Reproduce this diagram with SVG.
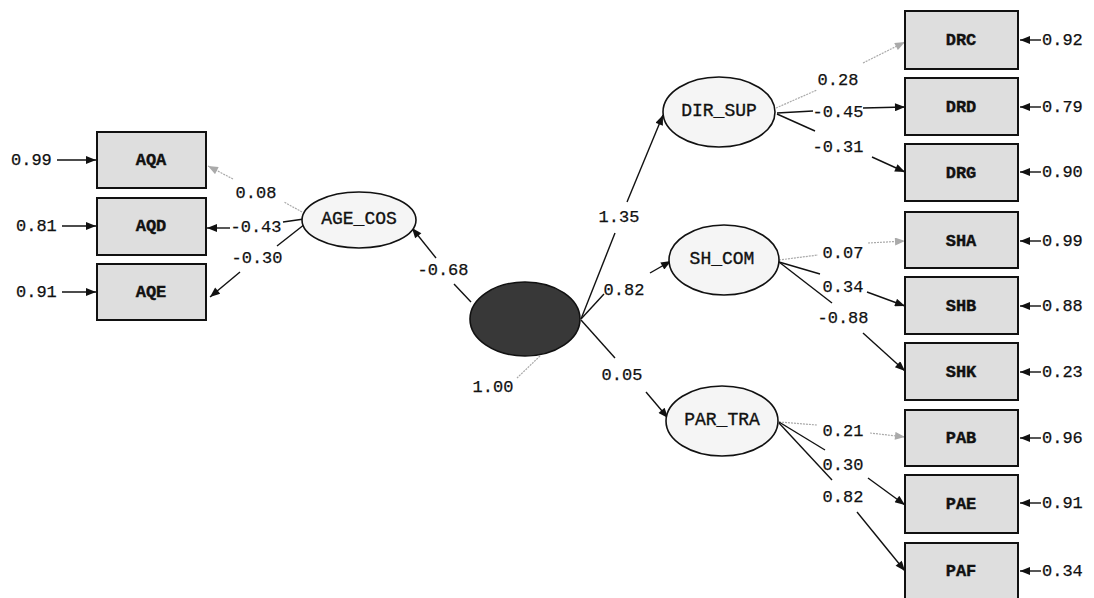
<svg xmlns="http://www.w3.org/2000/svg" width="1094" height="598" viewBox="0 0 1094 598">
<defs>
<marker id="ah" viewBox="0 0 10 8" refX="10" refY="4" markerWidth="12" markerHeight="8" orient="auto" markerUnits="userSpaceOnUse"><path d="M0,0 L10,4 L0,8 z" fill="#111"/></marker>
<marker id="ahg" viewBox="0 0 10 8" refX="10" refY="4" markerWidth="12" markerHeight="8" orient="auto" markerUnits="userSpaceOnUse"><path d="M0,0 L10,4 L0,8 z" fill="#aaa"/></marker>
<style>
.box{fill:#dedede;stroke:#111;stroke-width:2}
.ell{fill:#f5f5f5;stroke:#111;stroke-width:1.6}
.bl{font-family:"Liberation Mono",monospace;font-weight:bold;font-size:17px;fill:#111;stroke:#111;stroke-width:0.4;text-anchor:middle;dominant-baseline:central}
.el{font-family:"Liberation Mono",monospace;font-size:18px;fill:#111;stroke:#111;stroke-width:0.35;text-anchor:middle;dominant-baseline:central}
.num{font-family:"Liberation Mono",monospace;font-size:17px;fill:#111;stroke:#111;stroke-width:0.25;dominant-baseline:central}
.c{text-anchor:middle}
.ln{stroke:#111;stroke-width:1.4;fill:none}
.gl{stroke:#aaa;stroke-width:1.2;stroke-dasharray:2 1;fill:none}
</style>
</defs>
<rect width="1094" height="598" fill="#fff"/>

<g id="connectors">
<line class="ln" x1="471" y1="302" x2="454" y2="284"/>
<line class="ln" x1="436" y1="258" x2="412" y2="228" marker-end="url(#ah)"/>
<text class="num c" x="443" y="270">-0.68</text>
<line class="gl" x1="540" y1="356" x2="517" y2="378"/>
<text class="num c" x="493" y="387">1.00</text>
<line class="ln" x1="581" y1="319" x2="615" y2="233"/>
<line class="ln" x1="627" y1="202" x2="663" y2="115" marker-end="url(#ah)"/>
<text class="num c" x="619" y="217">1.35</text>
<line class="ln" x1="581" y1="319" x2="604" y2="294"/>
<line class="ln" x1="650" y1="273" x2="671" y2="261" marker-end="url(#ah)"/>
<text class="num c" x="624" y="290">0.82</text>
<line class="ln" x1="581" y1="320" x2="615" y2="358"/>
<line class="ln" x1="646" y1="392" x2="668" y2="418" marker-end="url(#ah)"/>
<text class="num c" x="622" y="375">0.05</text>

<line class="gl" x1="302" y1="212" x2="284" y2="202"/>
<line class="gl" x1="233" y1="179" x2="208" y2="166" marker-end="url(#ahg)"/>
<text class="num c" x="256" y="193">0.08</text>
<line class="ln" x1="304" y1="219" x2="283" y2="222"/>
<line class="ln" x1="230" y1="228" x2="207" y2="228" marker-end="url(#ah)"/>
<text class="num c" x="256" y="227">-0.43</text>
<line class="ln" x1="305" y1="224" x2="277" y2="246"/>
<line class="ln" x1="240" y1="272" x2="210" y2="297" marker-end="url(#ah)"/>
<text class="num c" x="257" y="258">-0.30</text>

<line class="ln" x1="57" y1="160" x2="96" y2="160" marker-end="url(#ah)"/>
<text class="num" x="11" y="160">0.99</text>
<line class="ln" x1="62" y1="226" x2="96" y2="226" marker-end="url(#ah)"/>
<text class="num" x="16" y="226">0.81</text>
<line class="ln" x1="62" y1="292" x2="96" y2="292" marker-end="url(#ah)"/>
<text class="num" x="16" y="292">0.91</text>

<line class="gl" x1="776" y1="108" x2="817" y2="90"/>
<line class="gl" x1="863" y1="63" x2="905" y2="42" marker-end="url(#ahg)"/>
<text class="num c" x="838" y="80">0.28</text>
<line class="ln" x1="777" y1="113" x2="813" y2="111"/>
<line class="ln" x1="863" y1="108" x2="905" y2="107" marker-end="url(#ah)"/>
<text class="num c" x="838" y="112">-0.45</text>
<line class="ln" x1="777" y1="114" x2="815" y2="131"/>
<line class="ln" x1="872" y1="157" x2="905" y2="172" marker-end="url(#ah)"/>
<text class="num c" x="838" y="147">-0.31</text>

<line class="gl" x1="779" y1="260" x2="818" y2="255"/>
<line class="gl" x1="868" y1="243" x2="905" y2="241" marker-end="url(#ahg)"/>
<text class="num c" x="843" y="253">0.07</text>
<line class="ln" x1="779" y1="262" x2="820" y2="274"/>
<line class="ln" x1="867" y1="292" x2="905" y2="306" marker-end="url(#ah)"/>
<text class="num c" x="843" y="287">0.34</text>
<line class="ln" x1="779" y1="262" x2="832" y2="303"/>
<line class="ln" x1="863" y1="333" x2="905" y2="371" marker-end="url(#ah)"/>
<text class="num c" x="843" y="318">-0.88</text>

<line class="gl" x1="779" y1="422" x2="817" y2="425"/>
<line class="gl" x1="870" y1="433" x2="905" y2="437" marker-end="url(#ahg)"/>
<text class="num c" x="843" y="431">0.21</text>
<line class="ln" x1="779" y1="422" x2="825" y2="450"/>
<line class="ln" x1="868" y1="478" x2="905" y2="505" marker-end="url(#ah)"/>
<text class="num c" x="843" y="465">0.30</text>
<line class="ln" x1="779" y1="423" x2="832" y2="480"/>
<line class="ln" x1="857" y1="512" x2="905" y2="571" marker-end="url(#ah)"/>
<text class="num c" x="843" y="497">0.82</text>

<line class="ln" x1="1041" y1="40" x2="1020" y2="40" marker-end="url(#ah)"/>
<text class="num" x="1042" y="40">0.92</text>
<line class="ln" x1="1041" y1="107" x2="1020" y2="107" marker-end="url(#ah)"/>
<text class="num" x="1042" y="107">0.79</text>
<line class="ln" x1="1041" y1="172" x2="1020" y2="172" marker-end="url(#ah)"/>
<text class="num" x="1042" y="172">0.90</text>
<line class="ln" x1="1041" y1="241" x2="1020" y2="241" marker-end="url(#ah)"/>
<text class="num" x="1042" y="241">0.99</text>
<line class="ln" x1="1041" y1="306" x2="1020" y2="306" marker-end="url(#ah)"/>
<text class="num" x="1042" y="306">0.88</text>
<line class="ln" x1="1041" y1="372" x2="1020" y2="372" marker-end="url(#ah)"/>
<text class="num" x="1042" y="372">0.23</text>
<line class="ln" x1="1041" y1="438" x2="1020" y2="438" marker-end="url(#ah)"/>
<text class="num" x="1042" y="438">0.96</text>
<line class="ln" x1="1041" y1="503" x2="1020" y2="503" marker-end="url(#ah)"/>
<text class="num" x="1042" y="503">0.91</text>
<line class="ln" x1="1041" y1="571" x2="1020" y2="571" marker-end="url(#ah)"/>
<text class="num" x="1042" y="571">0.34</text>
</g>

<g id="n-AQA"><rect class="box" x="97" y="132" width="109" height="56"/><text class="bl" x="151" y="160">AQA</text></g>
<g id="n-AQD"><rect class="box" x="97" y="198" width="109" height="57"/><text class="bl" x="151" y="226">AQD</text></g>
<g id="n-AQE"><rect class="box" x="97" y="264" width="109" height="56"/><text class="bl" x="151" y="292">AQE</text></g>

<g id="n-AGE_COS"><ellipse class="ell" cx="359" cy="220" rx="57" ry="28"/><text class="el" x="359" y="219">AGE_COS</text></g>
<g id="n-center"><ellipse cx="525" cy="319" rx="55" ry="37" fill="#383838" stroke="#111" stroke-width="1.6"/></g>
<g id="n-DIR_SUP"><ellipse class="ell" cx="719" cy="112" rx="56" ry="35"/><text class="el" x="719" y="111">DIR_SUP</text></g>
<g id="n-SH_COM"><ellipse class="ell" cx="724" cy="260" rx="55" ry="35"/><text class="el" x="722" y="259">SH_COM</text></g>
<g id="n-PAR_TRA"><ellipse class="ell" cx="722" cy="421" rx="56" ry="35"/><text class="el" x="722" y="420">PAR_TRA</text></g>

<g id="n-DRC"><rect class="box" x="905" y="11" width="113" height="58"/><text class="bl" x="961" y="40">DRC</text></g>
<g id="n-DRD"><rect class="box" x="905" y="78" width="113" height="57"/><text class="bl" x="961" y="107">DRD</text></g>
<g id="n-DRG"><rect class="box" x="905" y="144" width="113" height="57"/><text class="bl" x="961" y="173">DRG</text></g>
<g id="n-SHA"><rect class="box" x="905" y="212" width="113" height="56"/><text class="bl" x="961" y="241">SHA</text></g>
<g id="n-SHB"><rect class="box" x="905" y="277" width="113" height="57"/><text class="bl" x="961" y="306">SHB</text></g>
<g id="n-SHK"><rect class="box" x="905" y="343" width="113" height="57"/><text class="bl" x="961" y="372">SHK</text></g>
<g id="n-PAB"><rect class="box" x="905" y="410" width="113" height="56"/><text class="bl" x="961" y="438">PAB</text></g>
<g id="n-PAE"><rect class="box" x="905" y="475" width="113" height="58"/><text class="bl" x="961" y="504">PAE</text></g>
<g id="n-PAF"><rect class="box" x="905" y="543" width="113" height="56"/><text class="bl" x="961" y="571">PAF</text></g>
</svg>
